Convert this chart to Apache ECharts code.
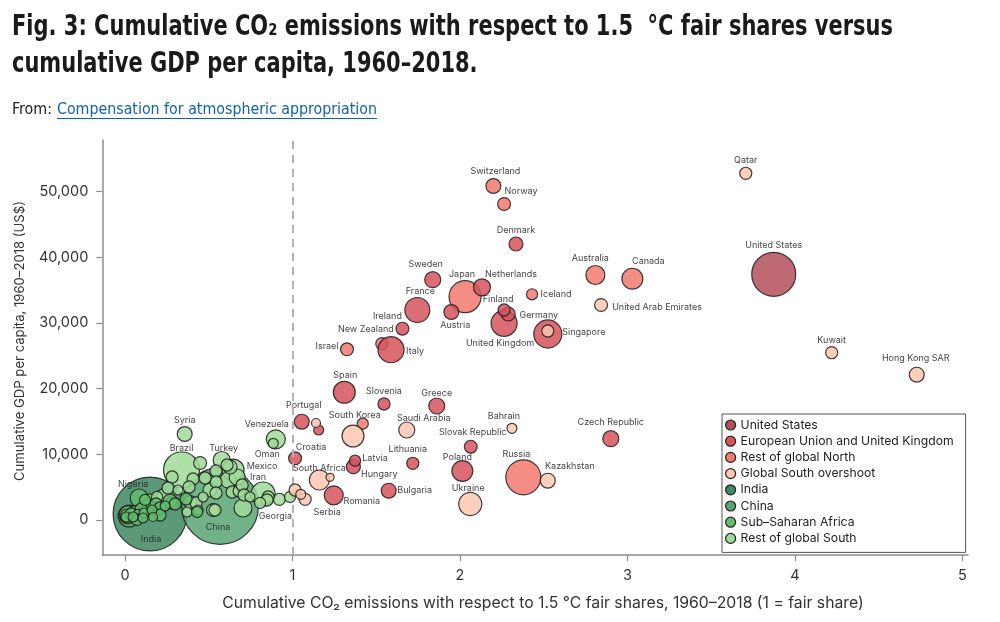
<!DOCTYPE html>
<html><head><meta charset="utf-8">
<script src="https://cdn.jsdelivr.net/npm/echarts@6/dist/echarts.min.js"></script>
<style>html,body{margin:0;padding:0;background:#fff}#c{width:1000px;height:622px}</style>
</head><body><div id="c"></div>
<script>
// ---- DATA: [name, emissions ratio vs fair share, cumulative GDP per capita (US$), population weight (millions)] ----
const usRows = [['United States',3.873,37420,273]];
const euRows = [
 ['Sweden',1.837,36598,19],['Denmark',2.334,42035,12],['Netherlands',2.131,35440,23],['France',1.745,31983,68],
 ['Austria',1.948,31678,15],['Finland',2.263,31983,7],['Belgium',2.288,31374,12],['United Kingdom',2.263,29957,76],
 ['Germany',2.524,28328,92],['Ireland',1.656,29135,9],['Italy',1.588,25937,76],['Spain',1.309,19449,48],
 ['Slovenia',1.546,17667,7],['Greece',1.861,17362,19],['Portugal',1.055,14971,15],['Cyprus',1.156,13707,3],
 ['Croatia',1.015,9397,9],['Latvia',1.373,9031,5],['Hungary',1.363,8118,12],['Lithuania',1.718,8635,7],
 ['Slovak Republic',2.064,11163,9],['Poland',2.014,7463,42],['Czech Republic',2.900,12382,19],
 ['Bulgaria',1.574,4462,15],['Romania',1.246,3762,32]
];
const northRows = [
 ['Switzerland',2.199,50868,15],['Norway',2.263,48127,9],['Japan',2.030,34009,128],['Iceland',2.430,34374,5],
 ['Australia',2.808,37314,32],['Canada',3.029,36750,42],['New Zealand',1.533,26850,7],['Israel',1.325,25998,9],
 ['South Korea',1.419,14666,5],['Russia',2.378,6503,159]
];
const overshootRows = [
 ['Qatar',3.706,52802,7],['United Arab Emirates',2.842,32745,9],['Singapore',2.524,28785,7],['Kuwait',4.219,25480,7],
 ['Hong Kong SAR',4.727,22129,15],['Saudi Arabia',1.682,13707,19],['Bahrain',2.310,13966,3],['Malaysia',1.361,12793,48],
 ['Trinidad and Tobago',1.140,14773,1.7],['South Africa',1.160,6092,37],['Libya',1.224,6503,0.8],
 ['Kazakhstan',2.524,5985,15],['Ukraine',2.061,2437,55],['Serbia',1.075,3153,7],['Belarus',1.015,4569,7],
 ['Bosnia and Herzegovina',1.049,3914,3]
];
const indiaRows = [['India',0.149,914,870]];
const chinaRows = [['China',0.567,2132,950]];
const ssaRows = [
 ['Nigeria',0.084,3351,27],['',0.006,457,3],['',0.012,609,12],['',0.018,762,27],['',0.024,609,48],
 ['',0.036,914,7],['',0.048,457,3],['',0.060,1218,9],['',0.078,762,5],['',0.096,1675,7],['',0.113,1066,3],
 ['',0.137,2132,9],['',0.161,1523,3],['',0.185,2437,7],['',0.209,1828,7],['',0.239,2132,3],['',0.269,2894,12],
 ['',0.299,2437,7],['',0.364,3198,7],['',0.209,762,7],['',0.107,305,3],['',0.072,0,5],['',0.167,457,1.7],
 ['',0.119,3046,5],['',0.430,1218,5]
];
const southRows = [
 ['Syria',0.356,13098,15],['Brazil',0.337,7615,170],['Turkey',0.577,9138,23],['Mexico',0.645,7615,48],
 ['Iran',0.824,3960,61],['Venezuela',0.900,12291,32],['Oman',0.885,11681,3],['Georgia',0.921,3153,7],
 ['',0.985,3503,5],['',0.854,3503,7],['',0.448,8681,9],['',0.281,6549,7],['',0.316,4569,3],['',0.281,2589,9],
 ['',0.388,2741,9],['',0.436,1523,3],['',0.370,1218,3],['',0.197,1828,3],['',0.406,6244,7],['',0.382,5026,7],
 ['',0.424,2589,7],['',0.543,7463,7],['',0.543,5787,7],['',0.543,4112,7],['',0.537,1523,7],['',0.615,6092,19],
 ['',0.639,4264,7],['',0.681,4417,7],['',0.699,5330,7],['',0.627,8072,12],['',0.704,1828,27],['',0.525,1523,9],
 ['',0.669,6549,19],['',0.609,8377,7],['',0.848,3046,7],['',0.806,2589,5],['',0.507,4569,12],['',0.478,6397,7],
 ['',0.227,3808,7],['',0.257,4874,7],['',0.191,3503,5],['',0.149,3046,7],['',0.466,3503,3],['',0.746,3503,3],
 ['',0.710,3808,7]
];
const groupNames = ['United States','European Union and United Kingdom','Rest of global North','Global South overshoot','India','China','Sub\u2013Saharan Africa','Rest of global South'];
const xTicks = [0,1,2,3,4,5];
const yTicks = [0,10000,20000,30000,40000,50000];
const fairShare = 1;

// ---- label placement (pixel offsets from bubble centre) ----
const labelOff = {
 'Switzerland':[2,-15],'Norway':[17,-13],'Denmark':[0,-14],'Sweden':[-7,-15],'Japan':[-3,-22],'Netherlands':[29,-13],
 'Iceland':[24,0],'Australia':[-5,-17],'Canada':[16,-17],'United Arab Emirates':[56,2],'France':[3,-19],'Austria':[4,13],
 'Finland':[-6,-11],'Germany':[-9,-19],'United Kingdom':[-4,20],'Singapore':[36,1],'Ireland':[-15,-12],'New Zealand':[-16,-14],
 'Italy':[24,2],'Israel':[-20,-3],'Spain':[1,-17],'Slovenia':[0,-13],'Greece':[0,-13],'Portugal':[2,-16],'South Korea':[-8,-8],
 'Saudi Arabia':[17,-12],'Venezuela':[-9,-15],'Oman':[-6,11],'Croatia':[16,-11],'Latvia':[20,-2],'Hungary':[26,8],
 'Lithuania':[-5,-14],'Slovak Republic':[2,-14],'Bahrain':[-8,-12],'Poland':[-5,-14],'Russia':[-7,-23],'Kazakhstan':[22,-14],
 'Czech Republic':[0,-16],'Ukraine':[-2,-16],'Bulgaria':[26,0],'Romania':[28,6],'Serbia':[22,13],'South Africa':[0,-12],
 'Syria':[0,-14],'Brazil':[0,-22],'Turkey':[2,-12],'Mexico':[29,-4],'Iran':[-5,-17],'Georgia':[-4,17],'China':[-2,21],
 'India':[1,25],'Nigeria':[-6,-14],'Qatar':[0,-13],'United States':[0,-29],'Kuwait':[0,-12],'Hong Kong SAR':[-1,-16]
};
const colors = ['#b44f59','#d6545c','#f27a6f','#fdc7b0','#3e8760','#58a473','#62bd6c','#a0da99'];

function mk(name, rows, color, z){
  const sorted = rows.slice().sort((a,b)=>b[3]-a[3]);
  return {
    type:'scatter', name, z,
    data: sorted.map(r=>({
      name:r[0], value:[r[1],r[2],r[3]],
      label: labelOff[r[0]] ? {show:true} : {show:false}
    })),
    symbolSize: v => 6 + 2.3*Math.sqrt(v[2]),
    itemStyle:{color, opacity:0.85, borderColor:'#1c1c1c', borderWidth:1.2},
    label:{position:'inside', fontFamily:'Inter', fontSize:9, color:'#222', formatter:'{b}'},
    labelLayout: function(p){
      const r = sorted[p.dataIndex]; const o = r && labelOff[r[0]];
      if(!o) return {};
      return {x: p.rect.x + p.rect.width/2 + o[0], y: p.rect.y + p.rect.height/2 + o[1], align:'center', verticalAlign:'middle'};
    },
    emphasis:{disabled:true}, silent:true
  };
}

function measure(text, font){ const c=document.createElement('canvas').getContext('2d'); c.font=font; return c.measureText(text).width; }
const tFont = 'bold 29px "Liberation Sans Narrow", "DejaVu Sans Condensed", sans-serif';
const t1 = 'Fig. 3: Cumulative CO\u2082 emissions with respect to 1.5  \u00B0C fair shares versus';
const t2 = 'cumulative GDP per capita, 1960\u20132018.';
const s1 = 881/measure(t1,tFont);
const fFont = '15px "Liberation Sans Narrow", "DejaVu Sans Condensed", sans-serif';
const fromT = 'From:'; const linkT = 'Compensation for atmospheric appropriation';
const sFrom = 40/measure(fromT,fFont); const sLink = 320/measure(linkT,fFont);
const xName = 'Cumulative CO\u2082 emissions with respect to 1.5 \u00B0C fair shares, 1960\u20132018 (1 = fair share)';
const yName = 'Cumulative GDP per capita, 1960\u20132018 (US$)';
const aFontBase = 14;
const xNameSize = aFontBase*642/measure(xName, aFontBase+'px Inter');
const yNameSize = aFontBase*280/measure(yName, aFontBase+'px Inter');

const chart = echarts.init(document.getElementById('c'), null, {renderer:'canvas'});
chart.setOption({
  animation:false,
  backgroundColor:'#fff',
  grid:{left:102.3, right:32, top:140, bottom:67},
  xAxis:{type:'value', min:-0.136, max:5.033,
    axisLine:{show:true, onZero:false, lineStyle:{color:'#8c8c8c', width:1.5}},
    axisTick:{show:true, customValues:xTicks, length:6, lineStyle:{color:'#8c8c8c', width:1.2}},
    axisLabel:{customValues:xTicks, margin:13, fontFamily:'Inter', fontSize:14.5, color:'#333'},
    splitLine:{show:false}},
  yAxis:{type:'value', min:-5330, max:57874,
    axisLine:{show:true, onZero:false, lineStyle:{color:'#8c8c8c', width:1.5}},
    axisTick:{show:true, customValues:yTicks, length:6, lineStyle:{color:'#8c8c8c', width:1.2}},
    axisLabel:{customValues:yTicks, margin:14, fontFamily:'Inter', fontSize:14.5, color:'#333',
      formatter: v => v.toLocaleString('en-US')},
    splitLine:{show:false}},
  legend:{data:groupNames, orient:'vertical', left:722, top:414, icon:'circle', itemWidth:10, itemHeight:10,
    itemGap:4.2, itemTextGap:7, padding:[5,12,8,3], borderColor:'#555', borderWidth:1, backgroundColor:'#fff',
    textStyle:{fontFamily:'Inter', fontSize:12.2, color:'#222'}, itemStyle:{opacity:1, borderColor:'#222', borderWidth:1.2},
    selectedMode:false},
  graphic:[
    {type:'text', x:12, y:27, scaleX:s1, style:{text:t1, font:tFont, fill:'#1a1a1a', verticalAlign:'middle', textVerticalAlign:'middle'}},
    {type:'text', x:12, y:64, scaleX:s1, style:{text:t2, font:tFont, fill:'#1a1a1a', verticalAlign:'middle', textVerticalAlign:'middle'}},
    {type:'text', x:12, y:110, scaleX:sFrom, style:{text:fromT, font:fFont, fill:'#222', verticalAlign:'middle', textVerticalAlign:'middle'}},
    {type:'text', x:57, y:110, scaleX:sLink, style:{text:linkT, font:fFont, fill:'#0f62a8', verticalAlign:'middle', textVerticalAlign:'middle'}},
    {type:'line', shape:{x1:57, y1:118.5, x2:377, y2:118.5}, style:{stroke:'#0f62a8', lineWidth:1}},
    {type:'text', x:543, y:603, style:{text:xName, font:xNameSize.toFixed(2)+'px Inter', fill:'#333', align:'center', textAlign:'center', verticalAlign:'middle', textVerticalAlign:'middle'}},
    {type:'text', x:20, y:341, rotation:Math.PI/2, style:{text:yName, font:yNameSize.toFixed(2)+'px Inter', fill:'#333', align:'center', textAlign:'center', verticalAlign:'middle', textVerticalAlign:'middle'}}
  ],
  series:[
    {type:'scatter', name:'fair', z:0, data:[], silent:true,
      markLine:{silent:true, symbol:'none', label:{show:false}, lineStyle:{color:'#b3b3b3', width:2, type:[8,6]}, data:[{xAxis:fairShare}]}},
    mk(groupNames[0], usRows, colors[0], 3),
    mk(groupNames[1], euRows, colors[1], 4),
    mk(groupNames[2], northRows, colors[2], 3),
    mk(groupNames[3], overshootRows, colors[3], 5),
    mk(groupNames[4], indiaRows, colors[4], 1),
    mk(groupNames[5], chinaRows, colors[5], 1),
    mk(groupNames[6], ssaRows, colors[6], 3),
    mk(groupNames[7], southRows, colors[7], 2)
  ]
});
</script></body></html>
